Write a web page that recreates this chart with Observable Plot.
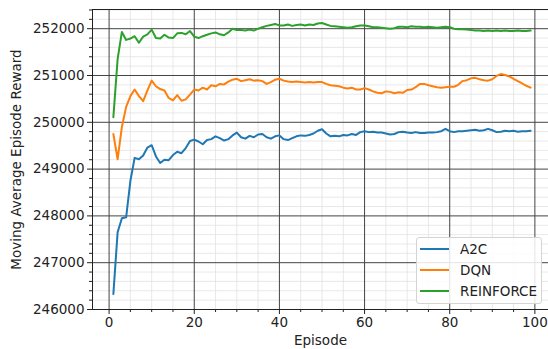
<!DOCTYPE html>
<html><head><meta charset="utf-8">
<script src="https://cdn.jsdelivr.net/npm/d3@7"></script>
<script src="https://cdn.jsdelivr.net/npm/@observablehq/plot@0.6"></script>
<style>
body{margin:0;background:#fff;}
#wrap{position:relative;width:548px;height:349px;font-family:"DejaVu Sans",sans-serif;}
.legend{position:absolute;left:416px;top:237px;width:126px;height:67px;border:1px solid #d4d4d4;border-radius:3px;background:rgba(255,255,255,0.85);box-sizing:border-box;font-size:13.5px;color:#222}
.legend .row{position:absolute;left:0;height:20px;display:flex;align-items:center;white-space:nowrap}
.legend .sw{display:inline-block;width:29px;height:2px;margin-left:3px;margin-right:11px}
</style>
</head><body><div id="wrap"></div>
<script>
const seriesNames = ["A2C", "DQN", "REINFORCE"];
const seriesColors = ["#1f77b4", "#ff7f0e", "#2ca02c"];
const episodes = d3.range(1, 100);
const a2c = [
246330,247650,247950,247970,248750,249240,249210,249290,249460,249510,
249270,249130,249200,249190,249300,249370,249340,249450,249600,249630,
249590,249530,249620,249640,249700,249660,249610,249640,249720,249780,
249680,249650,249710,249680,249740,249750,249680,249650,249700,249720,
249640,249620,249660,249700,249720,249710,249730,249760,249820,249850,
249760,249700,249710,249700,249730,249720,249750,249730,249790,249810,
249790,249800,249780,249780,249760,249740,249750,249790,249800,249780,
249770,249790,249770,249770,249780,249780,249790,249810,249860,249810,
249790,249810,249810,249820,249830,249840,249820,249830,249860,249830,
249790,249800,249820,249810,249820,249800,249810,249810,249820];
const dqn = [
249750,249210,249900,250330,250560,250700,250560,250450,250680,250890,
250770,250710,250680,250520,250470,250580,250460,250490,250590,250700,
250680,250740,250700,250790,250770,250820,250810,250870,250910,250930,
250880,250900,250920,250890,250900,250880,250820,250860,250910,250930,
250890,250870,250860,250870,250860,250850,250860,250850,250860,250860,
250820,250790,250780,250770,250740,250720,250740,250700,250700,250730,
250700,250660,250630,250620,250660,250650,250620,250640,250630,250690,
250700,250750,250820,250820,250790,250770,250750,250740,250750,250760,
250760,250800,250880,250900,250940,250950,250920,250900,250890,250920,
250990,251030,251010,250980,250930,250880,250830,250780,250740];
const reinforce = [
250110,251350,251930,251760,251790,251840,251700,251830,251880,251980,
251800,251790,251870,251810,251800,251900,251910,251880,251950,251830,
251800,251840,251870,251900,251920,251880,251860,251920,252000,251970,
251970,251960,251980,251960,252000,252030,252060,252080,252100,252070,
252070,252090,252060,252080,252090,252070,252090,252080,252110,252120,
252090,252060,252050,252040,252030,252020,252030,252050,252070,252070,
252050,252030,252030,252020,252010,252000,252010,252040,252040,252030,
252050,252040,252040,252030,252040,252030,252020,252030,252040,252030,
252000,251990,251990,251980,251970,251960,251960,251950,251960,251950,
251960,251950,251960,251950,251950,251960,251950,251950,251960];
const xTicks = [0, 20, 40, 60, 80, 100];
const yTicks = [246000, 247000, 248000, 249000, 250000, 251000, 252000];
const xLabel = "Episode";
const yLabel = "Moving Average Episode Reward";

const xMinor = d3.range(0, 105, 5).filter(v => !xTicks.includes(v));
const yMinor = d3.range(246000, 252401, 200).filter(v => !yTicks.includes(v));

const seriesValues = [a2c, dqn, reinforce];
const data = [];
seriesNames.forEach((name, i) => {
  episodes.forEach((ep, j) => data.push({series: name, episode: ep, value: seriesValues[i][j]}));
});

const chart = Plot.plot({
  width: 548,
  height: 349,
  marginTop: 9,
  marginBottom: 40,
  marginLeft: 92,
  marginRight: 0,
  style: {fontFamily: "DejaVu Sans, sans-serif", fontSize: "13.5px", background: "#fff", color: "#222"},
  x: {domain: [-3.9, 103.2]},
  y: {domain: [246000, 252410]},
  color: {domain: seriesNames, range: seriesColors},
  marks: [
    Plot.gridX(xMinor, {stroke: "#e2e2e2", strokeOpacity: 1, strokeWidth: 0.8}),
    Plot.gridY(yMinor, {stroke: "#e2e2e2", strokeOpacity: 1, strokeWidth: 0.8}),
    Plot.gridX(xTicks, {stroke: "#444", strokeOpacity: 1, strokeWidth: 1}),
    Plot.gridY(yTicks, {stroke: "#444", strokeOpacity: 1, strokeWidth: 1}),
    Plot.line(data, {x: "episode", y: "value", stroke: "series", strokeWidth: 2}),
    Plot.axisX(xTicks, {tickSize: 5, tickPadding: 3, tickFormat: d => String(d), label: null}),
    Plot.axisX(xMinor, {tickSize: 3, tickFormat: () => "", label: null}),
    Plot.axisY(yTicks, {tickSize: 5, tickPadding: 3, tickFormat: d => String(d), label: null}),
    Plot.axisY(yMinor, {tickSize: 3, tickFormat: () => "", label: null}),
    Plot.frame({anchor: "left", stroke: "#222"}),
    Plot.frame({anchor: "bottom", stroke: "#222"}),
    Plot.frame({anchor: "top", stroke: "#222"}),
    Plot.text([xLabel], {frameAnchor: "bottom", dy: 35, textAnchor: "middle", fontSize: 13.5, fill: "#222"}),
    Plot.text([yLabel], {frameAnchor: "left", dx: -76, rotate: -90, textAnchor: "middle", fontSize: 13.5, fill: "#222"})
  ]
});

const wrap = document.getElementById("wrap");
wrap.appendChild(chart);

const legend = document.createElement("div");
legend.className = "legend";
seriesNames.forEach((name, i) => {
  const row = document.createElement("div");
  row.className = "row";
  row.style.top = (1 + i * 21) + "px";
  const sw = document.createElement("span");
  sw.className = "sw";
  sw.style.background = seriesColors[i];
  const t = document.createElement("span");
  t.textContent = name;
  row.appendChild(sw);
  row.appendChild(t);
  legend.appendChild(row);
});
wrap.appendChild(legend);
</script></body></html>
